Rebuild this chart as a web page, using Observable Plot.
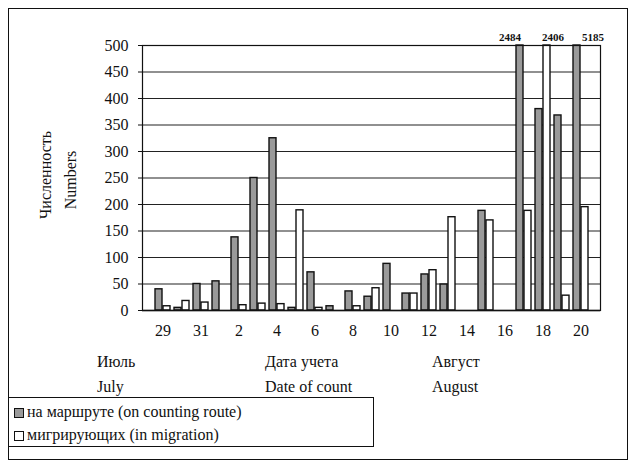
<!DOCTYPE html>
<html><head><meta charset="utf-8">
<script src="https://cdn.jsdelivr.net/npm/d3@7"></script>
<script src="https://cdn.jsdelivr.net/npm/@observablehq/plot@0.6"></script>
<style>
body{margin:0;background:#fff;}
#wrap{position:relative;width:636px;height:463px;font-family:"Liberation Serif",serif;color:#111;overflow:hidden;}
#wrap svg{position:absolute;left:0;top:0;}
.t{position:absolute;font-size:16px;white-space:nowrap;line-height:1;}
.frame{position:absolute;left:8px;top:8px;width:620px;height:452px;border:1px solid #111;box-sizing:border-box;}
.legend{position:absolute;left:8px;top:397px;width:366px;height:50px;border:1px solid #111;background:#fff;box-sizing:border-box;}
.li{position:absolute;left:5px;font-size:16px;white-space:nowrap;line-height:1;}
.sw{display:inline-block;width:10px;height:10px;border:1.5px solid #111;margin-right:3px;vertical-align:-1px;box-sizing:border-box;}
.rot{position:absolute;font-size:16px;white-space:nowrap;transform:translate(-50%,-50%) rotate(-90deg);line-height:1;}
</style></head><body><div id="wrap"><div class="frame"></div></div>
<script>
const days = ["29","30","31","1","2","3","4","5","6","7","8","9","10","11","12","13","14","15","16","17","18","19","20"];
const tickLabels = ["29","31","2","4","6","8","10","12","14","16","18","20"];
const onRoute =     [40, 5, 50, 55, 138, 250, 325, 5, 72, 8, 36, 26, 88, 32, 68, 49, 0, 188, 0, 2484, 380, 368, 5185];
const inMigration = [8, 18, 15, 0, 10, 13, 12, 189, 5, 0, 8, 42, 0, 32, 76, 176, 0, 170, 0, 188, 2406, 28, 195];
const seriesNames = ["на маршруте (on counting route)", "мигрирующих (in migration)"];
const yTicks = [0, 50, 100, 150, 200, 250, 300, 350, 400, 450, 500];
const monthsRu = ["Июль", "Дата учета", "Август"];
const monthsEn = ["July", "Date of count", "August"];
const yTitle = ["Численность", "Numbers"];

const rows = days.map((d, i) => ({day: d, route: onRoute[i], migr: inMigration[i]}));
const big = yTicks[yTicks.length - 1];

const chart = Plot.plot({
  width: 636, height: 463,
  marginLeft: 142, marginRight: 36, marginTop: 45, marginBottom: 153,
  style: {fontFamily: "Liberation Serif, serif", fontSize: "16px", background: "transparent", color: "#111"},
  x: {type: "band", domain: days, padding: 0, label: null, tickSize: 0, tickPadding: 14,
      tickFormat: d => tickLabels.includes(d) ? d : ""},
  y: {domain: [0, big], clamp: true, ticks: yTicks, label: null, tickSize: 4, tickPadding: 10},
  marks: [
    Plot.gridY(yTicks.slice(1), {stroke: "#222", strokeOpacity: 1, strokeWidth: 1.2}),
    Plot.barY(rows.filter(r => r.route > 0), {x: "day", y: "route", fill: "#9a9a9a", stroke: "#111", strokeWidth: 1.4, insetLeft: 2, insetRight: 10}),
    Plot.barY(rows.filter(r => r.migr > 0), {x: "day", y: "migr", fill: "#fff", stroke: "#111", strokeWidth: 1.4, insetLeft: 10, insetRight: 2}),
    Plot.frame({stroke: "#111", strokeWidth: 1.2}),
    Plot.ruleY([0], {stroke: "#111", strokeWidth: 1.5}),
    Plot.text(rows.filter(r => r.day === "17" && r.route > big), {x: "day", y: "route", text: r => String(r.route), dy: -8, dx: -14, fontSize: 11, fontWeight: "bold"}),
    Plot.text(rows.filter(r => r.day === "18" && r.migr > big), {x: "day", y: "migr", text: r => String(r.migr), dy: -8, dx: 10, fontSize: 11, fontWeight: "bold"}),
    Plot.text(rows.filter(r => r.day === "20" && r.route > big), {x: "day", y: "route", text: r => String(r.route), dy: -8, dx: 12, fontSize: 11, fontWeight: "bold"})
  ]
});
const wrap = document.getElementById("wrap");
wrap.appendChild(chart);

function addText(cls, txt, left, top) {
  const el = document.createElement("div");
  el.className = cls; el.textContent = txt;
  el.style.left = left + "px"; el.style.top = top + "px";
  wrap.appendChild(el);
  return el;
}
addText("rot", yTitle[0], 46, 175);
addText("rot", yTitle[1], 71, 180);
const xs = [97, 265, 432];
monthsRu.forEach((m, i) => addText("t", m, xs[i], 354));
monthsEn.forEach((m, i) => addText("t", m, xs[i], 379));

const lg = document.createElement("div");
lg.className = "legend";
const fills = ["#9a9a9a", "#fff"];
seriesNames.forEach((n, i) => {
  const it = document.createElement("div");
  it.className = "li";
  it.style.top = (6 + i * 23) + "px";
  const sw = document.createElement("span");
  sw.className = "sw"; sw.style.background = fills[i];
  it.appendChild(sw);
  it.appendChild(document.createTextNode(n));
  lg.appendChild(it);
});
wrap.appendChild(lg);
</script></body></html>
